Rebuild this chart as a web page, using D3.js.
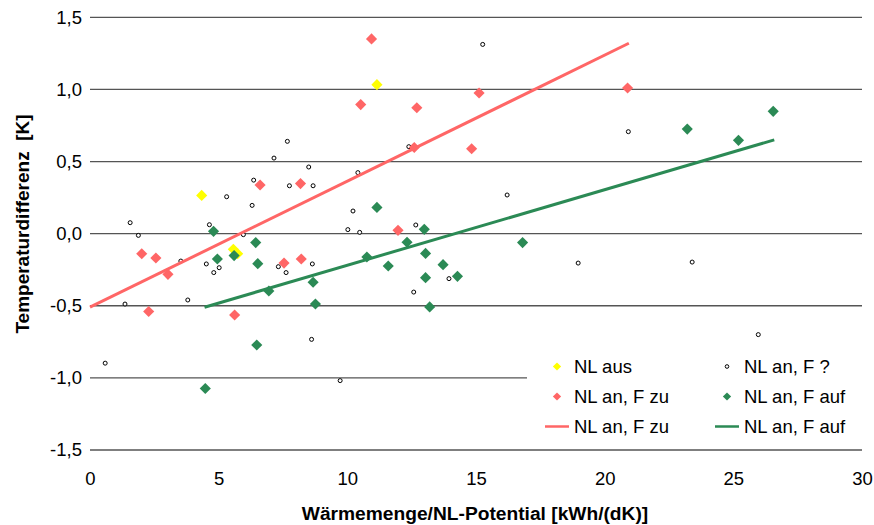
<!DOCTYPE html>
<html>
<head>
<meta charset="utf-8">
<script src="https://cdn.jsdelivr.net/npm/d3@7"></script>
<style>
  body { margin: 0; background: #fff; }
  text { font-family: "Liberation Sans", Arial, sans-serif; }
</style>
</head>
<body>
<script>
var width = 874, height = 525;

// NL aus
var ausX = [11.15, 4.34, 5.57, 5.74];
var ausY = [1.033, 0.265, -0.109, -0.139];

// NL an, F ?
var unbX = [7.67, 7.15, 8.50, 10.41, 12.39, 15.26, 20.92, 6.36, 5.31, 6.30, 1.56, 4.64, 1.88,
            5.96, 3.53, 4.52, 5.02, 4.81, 7.32, 1.36, 3.80, 7.75, 8.67, 10.22, 10.02, 10.48,
            12.66, 7.62, 8.64, 12.58, 13.95, 16.21, 18.97, 23.40, 25.97, 0.59, 8.61, 9.72];
var unbY = [0.64, 0.524, 0.462, 0.423, 0.603, 1.312, 0.707, 0.371, 0.256, 0.196, 0.076, 0.062, -0.012,
            -0.007, -0.19, -0.21, -0.236, -0.27, -0.229, -0.488, -0.46, 0.332, 0.332, 0.157, 0.028, 0.009,
            0.06, -0.27, -0.21, -0.405, -0.312, 0.268, -0.204, -0.197, -0.70, -0.898, -0.733, -1.019];

// NL an, F zu
var zuX = [10.94, 10.52, 12.70, 12.60, 15.12, 20.89, 14.83, 6.61, 2.01, 2.56, 3.03, 2.28, 5.62,
           8.18, 7.54, 8.21, 11.97];
var zuY = [1.35, 0.895, 0.873, 0.597, 0.975, 1.01, 0.589, 0.337, -0.139, -0.169, -0.282, -0.54, -0.564,
           0.347, -0.204, -0.176, 0.023];

// NL an, F auf
var aufX = [4.80, 6.44, 4.95, 5.60, 6.52, 6.95, 11.15, 12.99, 12.32, 10.76, 13.04, 11.59, 13.72,
            14.28, 13.04, 8.67, 8.76, 13.20, 16.81, 23.21, 25.20, 26.55, 6.48, 4.48];
var aufY = [0.016, -0.062, -0.176, -0.152, -0.208, -0.398, 0.182, 0.03, -0.06, -0.162, -0.137, -0.224, -0.215,
            -0.296, -0.305, -0.337, -0.488, -0.508, -0.062, 0.725, 0.647, 0.848, -0.772, -1.074];

// trend lines (end points)
var trendZuX = [0, 20.94];
var trendZuY = [-0.51, 1.32];
var trendAufX = [4.45, 26.59];
var trendAufY = [-0.51, 0.65];

var xTicks = [0, 5, 10, 15, 20, 25, 30];
var yTicks = [-1.5, -1.0, -0.5, 0, 0.5, 1.0, 1.5];

var RED = "#ff6666", GREEN = "#2b8a55", YELLOW = "#ffff00";

var svg = d3.select("body").append("svg")
    .attr("width", width)
    .attr("height", height);

var x = d3.scaleLinear().domain([0, 30]).range([90, 862]);
var y = d3.scaleLinear().domain([-1.5, 1.5]).range([450, 17.3]);

// german decimals, plain hyphen as minus
var de = d3.formatLocale({decimal: ",", thousands: ".", grouping: [3], currency: ["", "€"], minus: "-"});
var fmtY = de.format(".1f");

// gridlines
svg.append("g")
    .selectAll("line")
    .data(yTicks)
    .enter()
    .append("line")
    .attr("x1", x(0))
    .attr("x2", x(30))
    .attr("y1", d => y(d))
    .attr("y2", d => y(d))
    .attr("stroke", "#555")
    .attr("stroke-width", 1.3);

// tick labels via axes
var yAxis = svg.append("g")
    .attr("transform", "translate(" + x(0) + ",0)")
    .call(d3.axisLeft(y).tickValues(yTicks).tickFormat(fmtY).tickSize(0).tickPadding(8));
var xAxis = svg.append("g")
    .attr("transform", "translate(0," + (y(-1.5) + 14) + ")")
    .call(d3.axisBottom(x).tickValues(xTicks).tickFormat(de.format("d")).tickSize(0).tickPadding(8));
[yAxis, xAxis].forEach(function(a) {
    a.select(".domain").remove();
    a.selectAll("text")
        .attr("font-family", "Liberation Sans, Arial, sans-serif")
        .attr("font-size", "18.5px")
        .attr("fill", "#000");
});

// axis titles
svg.append("text")
    .attr("x", 475)
    .attr("y", 520)
    .attr("text-anchor", "middle")
    .attr("font-size", "19.2px")
    .attr("font-weight", "bold")
    .text("Wärmemenge/NL-Potential [kWh/(dK)]");

svg.append("text")
    .attr("transform", "translate(29,224) rotate(-90)")
    .attr("text-anchor", "middle")
    .attr("font-size", "19px")
    .attr("font-weight", "bold")
    .style("white-space", "pre")
    .text("Temperaturdifferenz  [K]");

// legend background (covers the grid)
svg.append("rect")
    .attr("x", 527)
    .attr("y", 347)
    .attr("width", 347)
    .attr("height", 97)
    .attr("fill", "#fff");

var diamond = function(size) {
    return d3.symbol().type(d3.symbolSquare).size(size)();
};

function drawDiamonds(xs, ys, color) {
    svg.append("g")
        .selectAll("path")
        .data(xs.map((v, i) => [v, ys[i]]))
        .enter()
        .append("path")
        .attr("d", diamond(62))
        .attr("transform", d => "translate(" + x(d[0]) + "," + y(d[1]) + ") rotate(45)")
        .attr("fill", color);
}

drawDiamonds(ausX, ausY, YELLOW);

svg.append("g")
    .selectAll("circle")
    .data(unbX.map((v, i) => [v, unbY[i]]))
    .enter()
    .append("circle")
    .attr("cx", d => x(d[0]))
    .attr("cy", d => y(d[1]))
    .attr("r", 2)
    .attr("fill", "#fff")
    .attr("stroke", "#000")
    .attr("stroke-width", 1);

drawDiamonds(zuX, zuY, RED);
drawDiamonds(aufX, aufY, GREEN);

var line = d3.line().x(d => x(d[0])).y(d => y(d[1]));
svg.append("path")
    .datum(trendZuX.map((v, i) => [v, trendZuY[i]]))
    .attr("d", line)
    .attr("fill", "none")
    .attr("stroke", RED)
    .attr("stroke-width", 3);
svg.append("path")
    .datum(trendAufX.map((v, i) => [v, trendAufY[i]]))
    .attr("d", line)
    .attr("fill", "none")
    .attr("stroke", GREEN)
    .attr("stroke-width", 3);

// legend
var legendItems = [
    {label: "NL aus", kind: "diamond", color: YELLOW, lx: 557, tx: 574, ty: 373},
    {label: "NL an, F ?", kind: "circle", color: "#000", lx: 727, tx: 744, ty: 373},
    {label: "NL an, F zu", kind: "diamond", color: RED, lx: 557, tx: 574, ty: 403},
    {label: "NL an, F auf", kind: "diamond", color: GREEN, lx: 727, tx: 744, ty: 403},
    {label: "NL an, F zu", kind: "line", color: RED, lx: 557, tx: 574, ty: 433},
    {label: "NL an, F auf", kind: "line", color: GREEN, lx: 727, tx: 744, ty: 433}
];

legendItems.forEach(function(it) {
    var cy = it.ty - 6.5;
    if (it.kind == "diamond") {
        svg.append("path")
            .attr("d", diamond(34))
            .attr("transform", "translate(" + it.lx + "," + cy + ") rotate(45)")
            .attr("fill", it.color);
    } else if (it.kind == "circle") {
        svg.append("circle")
            .attr("cx", it.lx).attr("cy", cy).attr("r", 1.8)
            .attr("fill", "#fff").attr("stroke", "#000").attr("stroke-width", 1);
    } else {
        svg.append("line")
            .attr("x1", it.lx - 12).attr("x2", it.lx + 12)
            .attr("y1", cy).attr("y2", cy)
            .attr("stroke", it.color).attr("stroke-width", 2.5);
    }
    svg.append("text")
        .attr("x", it.tx)
        .attr("y", it.ty)
        .attr("font-size", "18.5px")
        .text(it.label);
});
</script>
</body>
</html>
